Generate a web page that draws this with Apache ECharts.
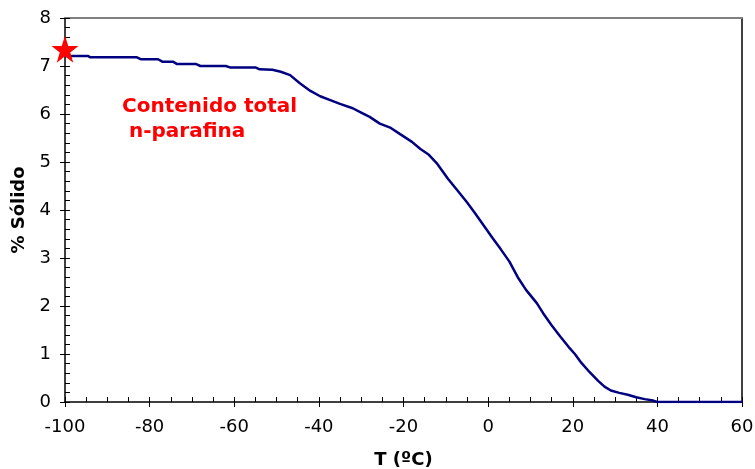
<!DOCTYPE html>
<html>
<head>
<meta charset="utf-8">
<script src="https://cdn.jsdelivr.net/npm/echarts@6/dist/echarts.min.js"></script>
<style>
  html, body { margin: 0; padding: 0; background: #fff; }
  #chart { width: 755px; height: 469px; }
</style>
</head>
<body>
<div id="chart"></div>
<script>
// Temperature (ºC) and solid content (%) of the n-paraffin curve
const temps = [
  -100, -94.6, -94, -83, -82, -78, -77, -74.5, -73.5, -69, -68, -62, -61, -55, -54,
  -51, -49, -46.8, -44.5, -42, -39.7, -37, -35, -32, -30, -28, -25.6, -23, -20.8,
  -18, -16, -14, -12, -9.5, -7, -5, -3, -1, 1, 3, 5, 7, 9, 11.5, 13, 15, 17, 19,
  20.5, 22, 24, 26, 27.5, 29, 31, 33, 35, 37, 39, 40, 50, 60
];
const solidPct = [
  7.21, 7.21, 7.18, 7.18, 7.14, 7.14, 7.09, 7.09, 7.04, 7.04, 7.00, 7.00, 6.97, 6.97, 6.93,
  6.92, 6.88, 6.81, 6.64, 6.48, 6.37, 6.28, 6.21, 6.12, 6.03, 5.94, 5.80, 5.71, 5.58,
  5.42, 5.27, 5.15, 4.96, 4.65, 4.38, 4.16, 3.92, 3.67, 3.42, 3.18, 2.93, 2.60, 2.33, 2.06, 1.85, 1.60, 1.37, 1.15,
  1.00, 0.82, 0.62, 0.44, 0.32, 0.24, 0.19, 0.15, 0.10, 0.06, 0.03, 0, 0, 0
];
// Total n-paraffin content marker
const totalT = [-100];
const totalPct = [7.35];

const xTicks = { min: -100, max: 60, interval: 20 };
const yTicks = { min: 0, max: 8, interval: 1 };

const tickFont = { fontFamily: 'DejaVu Sans', fontSize: 18, color: '#000' };
const nameFont = { fontFamily: 'DejaVu Sans', fontWeight: 'bold', fontSize: 18, color: '#000' };
const starPath = 'path://M50,0 L61.8,35.1 L98.1,35.1 L68.7,56.8 L79.4,91.9 L50,70.1 L20.6,91.9 L31.3,56.8 L1.9,35.1 L38.2,35.1 Z';

const chart = echarts.init(document.getElementById('chart'));
chart.setOption({
  animation: false,
  backgroundColor: '#fff',
  grid: { left: 65, right: 13, top: 18, bottom: 67, containLabel: false, outerBoundsMode: 'none' },
  xAxis: [
    {
      type: 'value', position: 'bottom', ...xTicks,
      name: 'T (ºC)', nameLocation: 'middle', nameGap: 49,
      nameTextStyle: nameFont,
      axisLine: { show: true, onZero: false, lineStyle: { color: '#000', width: 1.5 } },
      axisTick: { show: true, inside: false, length: 5, lineStyle: { color: '#000' } },
      axisLabel: { ...tickFont, margin: 16 },
      splitLine: { show: false }
    },
    {
      type: 'value', position: 'bottom', ...xTicks,
      axisLine: { show: false, onZero: false },
      axisTick: { show: true, inside: true, length: 5, lineStyle: { color: '#000' } },
      minorTick: { show: true, splitNumber: 4, length: 5, lineStyle: { color: '#000' } },
      axisLabel: { show: false },
      splitLine: { show: false }
    },
    {
      type: 'value', position: 'top', ...xTicks,
      axisLine: { show: true, onZero: false, lineStyle: { color: '#808080', width: 2 } },
      axisTick: { show: false }, axisLabel: { show: false }, splitLine: { show: false }
    }
  ],
  yAxis: [
    {
      type: 'value', position: 'left', ...yTicks,
      name: '% Sólido', nameLocation: 'middle', nameGap: 32,
      nameTextStyle: nameFont,
      axisLine: { show: true, onZero: false, lineStyle: { color: '#000', width: 1.5 } },
      axisTick: { show: true, inside: false, length: 5, lineStyle: { color: '#000' } },
      axisLabel: { ...tickFont, margin: 14 },
      splitLine: { show: false }
    },
    {
      type: 'value', position: 'left', ...yTicks,
      axisLine: { show: false, onZero: false },
      axisTick: { show: true, inside: true, length: 5, lineStyle: { color: '#000' } },
      minorTick: { show: true, splitNumber: 5, length: 5, lineStyle: { color: '#000' } },
      axisLabel: { show: false },
      splitLine: { show: false }
    },
    {
      type: 'value', position: 'right', ...yTicks,
      axisLine: { show: true, onZero: false, lineStyle: { color: '#000', width: 1.5 } },
      axisTick: { show: false }, axisLabel: { show: false }, splitLine: { show: false }
    }
  ],
  series: [
    {
      type: 'line',
      xAxisIndex: 0, yAxisIndex: 0,
      data: temps.map((t, i) => [t, solidPct[i]]),
      showSymbol: false,
      lineStyle: { color: '#000080', width: 2.5 },
      z: 3
    },
    {
      type: 'scatter',
      xAxisIndex: 0, yAxisIndex: 0,
      data: totalT.map((t, i) => [t, totalPct[i]]),
      symbol: starPath,
      symbolSize: 27,
      clip: false,
      itemStyle: { color: '#ff0000', opacity: 1 },
      z: 5
    }
  ],
  graphic: [
    {
      type: 'text', left: 122, top: 94,
      style: {
        text: 'Contenido total\n n-parafina',
        fill: '#ff0000',
        font: 'bold 20px "DejaVu Sans"',
        lineHeight: 25
      }
    }
  ]
});
</script>
</body>
</html>
